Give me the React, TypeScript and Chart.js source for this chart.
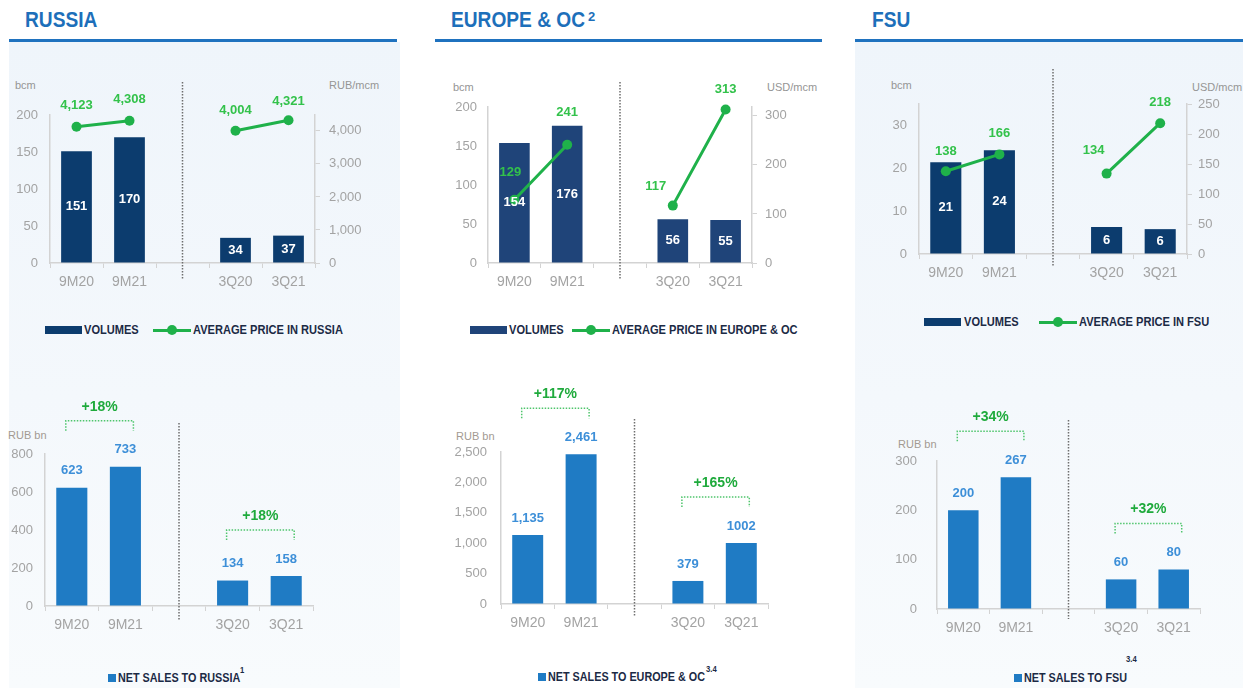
import React, { useEffect, useRef } from "react";
import { Chart, registerables } from "chart.js";

Chart.register(...registerables);

// ---------- DATA ----------
const CATEGORIES = ["9M20", "9M21", "", "3Q20", "3Q21"];

const RUSSIA_VOLUMES = [151, 170, null, 34, 37];
const RUSSIA_PRICE = [4123, 4308, null, 4004, 4321];
const RUSSIA_SALES = [623, 733, null, 134, 158];
const RUSSIA_GROWTH = ["+18%", "+18%"];

const EUROPE_VOLUMES = [154, 176, null, 56, 55];
const EUROPE_PRICE = [129, 241, null, 117, 313];
const EUROPE_SALES = [1135, 2461, null, 379, 1002];
const EUROPE_SALES_LABELS = ["1,135", "2,461", "", "379", "1002"];
const EUROPE_GROWTH = ["+117%", "+165%"];

const FSU_VOLUMES = [21.4, 24.2, null, 6.3, 5.8];
const FSU_PRICE = [138, 166, null, 134, 218];
const FSU_SALES = [200, 267, null, 60, 80];
const FSU_GROWTH = ["+34%", "+32%"];

// ---------- STYLE ----------
const FONT = "'Liberation Sans', Arial, Helvetica, sans-serif";
const NAVY = "#0c3c6e";
const NAVY_EU = "#1f4479";
const BLUE = "#1f7bc4";
const GREEN = "#1fb14a";
const PRICE_GREEN = "#33c24b";
const PCT_GREEN = "#1faa3c";
const BRACKET_GREEN = "#4fc56c";
const ABOVE_BLUE = "#3d8fd8";
const AXIS_GRAY = "#d3d3d3";
const TICK_GRAY = "#a3a3a3";
const TITLE_BLUE = "#1d6fba";
const LEGEND_TEXT = "#1b2a45";

Chart.defaults.font.family = FONT;

const fmt = (v: number) => v.toLocaleString("en-US");

const annot = {
  id: "annot",
  afterDraw(chart: any, _args: any, o: any) {
    const { ctx, chartArea: a } = chart;
    const xs = chart.scales.x;
    ctx.save();
    // dotted separator
    const sx = xs.getPixelForValue(2);
    ctx.strokeStyle = "#6e6e6e";
    ctx.lineWidth = 1.5;
    ctx.setLineDash([1.5, 1.5]);
    ctx.beginPath();
    ctx.moveTo(sx, a.top + o.sep[0]);
    ctx.lineTo(sx, a.bottom + o.sep[1]);
    ctx.stroke();
    ctx.setLineDash([]);
    ctx.textAlign = "center";
    ctx.textBaseline = "middle";
    chart.data.datasets.forEach((ds: any, di: number) => {
      const meta = chart.getDatasetMeta(di);
      meta.data.forEach((el: any, i: number) => {
        const v = ds.data[i];
        if (v == null) return;
        if (ds.labelMode === "price") {
          const off = (o.priceOffsets && o.priceOffsets[i]) || [0, -20];
          ctx.font = `bold 13px ${FONT}`;
          ctx.fillStyle = PRICE_GREEN;
          ctx.fillText(fmt(v), el.x + off[0], el.y + off[1]);
        } else if (ds.labelMode === "inside") {
          ctx.font = `bold 13px ${FONT}`;
          ctx.fillStyle = "#ffffff";
          ctx.fillText(String(Math.round(v)), el.x, (el.y + el.base) / 2);
        } else if (ds.labelMode === "above") {
          ctx.font = `bold 13px ${FONT}`;
          ctx.fillStyle = ABOVE_BLUE;
          const txt = ds.valueLabels ? ds.valueLabels[i] : fmt(v);
          ctx.fillText(txt, el.x, el.y - 17);
        }
      });
    });
    // growth brackets
    if (o.growth) {
      const meta = chart.getDatasetMeta(0);
      const pairs = [
        [0, 1],
        [3, 4],
      ];
      pairs.forEach((p, k) => {
        const e0 = meta.data[p[0]];
        const e1 = meta.data[p[1]];
        const top = Math.min(e0.y, e1.y);
        const xa = e0.x - 6;
        const xb = e1.x + 8;
        const yb = top - 36;
        const yl = top - 46;
        ctx.strokeStyle = BRACKET_GREEN;
        ctx.lineWidth = 1.5;
        ctx.setLineDash([1.5, 1.5]);
        ctx.beginPath();
        ctx.moveTo(xa, yb);
        ctx.lineTo(xa, yl);
        ctx.lineTo(xb, yl);
        ctx.lineTo(xb, yb);
        ctx.stroke();
        ctx.setLineDash([]);
        ctx.font = `bold 14px ${FONT}`;
        ctx.fillStyle = PCT_GREEN;
        ctx.fillText(o.growth[k], (xa + xb) / 2, top - 60);
      });
    }
    ctx.restore();
  },
};

function xScale(h: number) {
  return {
    type: "category",
    grid: { display: true, drawOnChartArea: false, drawTicks: true, tickLength: 5, color: AXIS_GRAY, offset: true },
    border: { color: AXIS_GRAY, width: 1.5 },
    ticks: { color: TICK_GRAY, font: { size: 14 }, padding: 6, autoSkip: false, maxRotation: 0 },
    afterFit: (s: any) => {
      s.height = h;
    },
  };
}

function yScale(pos: string, w: number, max: number, step: number, pad: number, tickLen: number) {
  return {
    position: pos,
    min: 0,
    max,
    grid: { display: true, drawOnChartArea: false, drawTicks: tickLen > 0, tickLength: tickLen, color: AXIS_GRAY },
    border: { color: AXIS_GRAY, width: 1.5 },
    ticks: {
      color: TICK_GRAY,
      font: { size: 13 },
      padding: pad,
      autoSkip: false,
      callback: (v: number) => fmt(v),
    },
    afterBuildTicks: (s: any) => {
      const t: any[] = [];
      for (let v = 0; v <= max + 1e-9; v += step) t.push({ value: v });
      s.ticks = t;
    },
    afterFit: (s: any) => {
      s.width = w;
    },
  };
}

function topConfig(p: any) {
  const [L, T, W, H] = p.rect;
  const [x0, x1, y0, y1] = p.area;
  return {
    type: "bar",
    data: {
      labels: CATEGORIES,
      datasets: [
        {
          type: "line",
          data: p.price,
          yAxisID: "y2",
          labelMode: "price",
          borderColor: GREEN,
          backgroundColor: GREEN,
          borderWidth: 3,
          pointRadius: 5,
          pointHoverRadius: 5,
          pointBackgroundColor: GREEN,
          pointBorderWidth: 0,
          spanGaps: false,
          order: 0,
          clip: false,
        },
        {
          type: "bar",
          data: p.volumes,
          yAxisID: "y",
          labelMode: "inside",
          backgroundColor: p.barColor,
          barPercentage: 0.58,
          categoryPercentage: 1,
          order: 1,
        },
      ],
    },
    plugins: [annot],
    options: {
      responsive: false,
      animation: false,
      devicePixelRatio: 1,
      layout: { padding: { top: y0 - T, left: 0, right: 0, bottom: 0 } },
      plugins: {
        legend: { display: false },
        tooltip: { enabled: false },
        annot: { sep: p.sep, priceOffsets: p.priceOffsets },
      },
      scales: {
        x: xScale(T + H - y1),
        y: yScale("left", x0 - L, p.yMax, p.yStep, p.leftPad, 0),
        y2: yScale("right", L + W - x1, p.y2Max, p.y2Step, p.rightPad, 5),
      },
    },
  };
}

function bottomConfig(p: any) {
  const [L, T, W, H] = p.rect;
  const [x0, x1, y0, y1] = p.area;
  return {
    type: "bar",
    data: {
      labels: CATEGORIES,
      datasets: [
        {
          type: "bar",
          data: p.sales,
          labelMode: "above",
          valueLabels: p.valueLabels,
          backgroundColor: BLUE,
          barPercentage: 0.58,
          categoryPercentage: 1,
        },
      ],
    },
    plugins: [annot],
    options: {
      responsive: false,
      animation: false,
      devicePixelRatio: 1,
      layout: { padding: { top: y0 - T, left: 0, right: L + W - x1, bottom: 0 } },
      plugins: {
        legend: { display: false },
        tooltip: { enabled: false },
        annot: { sep: p.sep, growth: p.growth },
      },
      scales: {
        x: xScale(T + H - y1),
        y: yScale("left", x0 - L, p.yMax, p.yStep, p.leftPad, 0),
      },
    },
  };
}

function ChartBox({ rect, make }: { rect: number[]; make: () => any }) {
  const ref = useRef<HTMLCanvasElement>(null);
  useEffect(() => {
    const chart = new Chart(ref.current as HTMLCanvasElement, make());
    return () => chart.destroy();
  }, []);
  return (
    <canvas
      ref={ref}
      width={rect[2]}
      height={rect[3]}
      style={{ position: "absolute", left: rect[0], top: rect[1], width: rect[2], height: rect[3] }}
    />
  );
}

function Txt(props: any) {
  const { x, y, size, color, bold, sx = 1, children } = props;
  return (
    <div
      style={{
        position: "absolute",
        left: x,
        top: y,
        fontFamily: FONT,
        fontSize: size,
        fontWeight: bold ? 700 : 400,
        color,
        lineHeight: 1,
        whiteSpace: "nowrap",
        transform: `translateY(-50%) scaleX(${sx})`,
        transformOrigin: "left center",
      }}
    >
      {children}
    </div>
  );
}

function Box(props: any) {
  const { x, y, w, h, bg, round } = props;
  return (
    <div
      style={{
        position: "absolute",
        left: x,
        top: y,
        width: w,
        height: h,
        background: bg,
        borderRadius: round ? "50%" : 0,
      }}
    />
  );
}

function TopLegend({ rx, y, tx, lx, px, label, barColor }: any) {
  return (
    <>
      <Box x={rx} y={y - 4} w={37} h={8} bg={barColor} />
      <Txt x={tx} y={y} size={13.5} bold color={LEGEND_TEXT} sx={0.82}>
        VOLUMES
      </Txt>
      <Box x={lx} y={y - 1.5} w={38} h={3} bg={GREEN} />
      <Box x={lx + 14} y={y - 5} w={10} h={10} bg={GREEN} round />
      <Txt x={px} y={y} size={13.5} bold color={LEGEND_TEXT} sx={0.82}>
        {label}
      </Txt>
    </>
  );
}

function BottomLegend({ sqx, y, label, supx, supy, sup }: any) {
  return (
    <>
      <Box x={sqx} y={y - 4} w={8} h={8} bg={BLUE} />
      <Txt x={sqx + 10} y={y} size={13.5} bold color={LEGEND_TEXT} sx={0.8}>
        {label}
      </Txt>
      <Txt x={supx} y={supy} size={9} bold color={LEGEND_TEXT} sx={0.85}>
        {sup}
      </Txt>
    </>
  );
}

export default function App() {
  useEffect(() => {
    document.body.style.margin = "0";
  }, []);

  const ruTop = { rect: [9, 75, 391, 225], area: [50, 315, 115, 263] };
  const euTop = { rect: [435, 75, 387, 225], area: [488, 752, 107, 263] };
  const fsTop = { rect: [855, 60, 388, 240], area: [919, 1187, 104, 254] };
  const ruBot = { rect: [9, 380, 391, 260], area: [45, 313, 454, 606] };
  const euBot = { rect: [435, 370, 387, 270], area: [501, 768, 452, 604] };
  const fsBot = { rect: [855, 390, 388, 260], area: [937, 1200, 461, 609] };

  const panelBg = "linear-gradient(180deg, #eff5fb 0%, #f4f8fc 55%, #f8fbfd 100%)";

  return (
    <div
      style={{
        position: "fixed",
        left: 0,
        top: 0,
        width: 1243,
        height: 688,
        background: "#ffffff",
        overflow: "hidden",
      }}
    >
      {/* panel backgrounds */}
      <Box x={9} y={42} w={391} h={646} bg={panelBg} />
      <Box x={855} y={42} w={388} h={646} bg={panelBg} />

      {/* titles */}
      <Txt x={25} y={20} size={22} bold color={TITLE_BLUE} sx={0.87}>
        RUSSIA
      </Txt>
      <Txt x={451} y={20} size={22} bold color={TITLE_BLUE} sx={0.87}>
        EUROPE &amp; OC
      </Txt>
      <Txt x={588} y={16} size={13} bold color={TITLE_BLUE}>
        2
      </Txt>
      <Txt x={872} y={20} size={22} bold color={TITLE_BLUE} sx={0.87}>
        FSU
      </Txt>
      <Box x={9} y={38.5} w={388} h={3} bg="#1f72bf" />
      <Box x={435} y={38.5} w={387} h={3} bg="#1f72bf" />
      <Box x={855} y={38.5} w={388} h={3} bg="#1f72bf" />

      {/* unit labels */}
      <Txt x={15} y={85} size={11} color="#959595">bcm</Txt>
      <Txt x={329} y={85} size={11} color="#959595">RUB/mcm</Txt>
      <Txt x={453} y={87} size={11} color="#959595">bcm</Txt>
      <Txt x={767} y={87} size={11} color="#959595">USD/mcm</Txt>
      <Txt x={891} y={85} size={11} color="#959595">bcm</Txt>
      <Txt x={1192} y={87} size={11} color="#959595">USD/mcm</Txt>
      <Txt x={8} y={435} size={11} color="#a39a92">RUB bn</Txt>
      <Txt x={456} y={436} size={11} color="#a39a92">RUB bn</Txt>
      <Txt x={898} y={444} size={11} color="#a39a92">RUB bn</Txt>

      {/* charts */}
      <ChartBox
        rect={ruTop.rect}
        make={() =>
          topConfig({
            ...ruTop,
            volumes: RUSSIA_VOLUMES,
            price: RUSSIA_PRICE,
            barColor: NAVY,
            yMax: 200,
            yStep: 50,
            y2Max: 4480,
            y2Step: 1000,
            leftPad: 12,
            rightPad: 9,
            sep: [-33, 17],
            priceOffsets: [[0, -21], [0, -21], null, [0, -20], [0, -19]],
          })
        }
      />
      <ChartBox
        rect={euTop.rect}
        make={() =>
          topConfig({
            ...euTop,
            volumes: EUROPE_VOLUMES,
            price: EUROPE_PRICE,
            barColor: NAVY_EU,
            yMax: 200,
            yStep: 50,
            y2Max: 318,
            y2Step: 100,
            leftPad: 11,
            rightPad: 8,
            sep: [-25, 17],
            priceOffsets: [[-4, -27], [0, -32], null, [-17, -19], [0, -20]],
          })
        }
      />
      <ChartBox
        rect={fsTop.rect}
        make={() =>
          topConfig({
            ...fsTop,
            volumes: FSU_VOLUMES,
            price: FSU_PRICE,
            barColor: NAVY,
            yMax: 35,
            yStep: 10,
            y2Max: 250,
            y2Step: 50,
            leftPad: 12,
            rightPad: 6,
            sep: [-35, 13],
            priceOffsets: [[0, -20], [0, -21], null, [-13, -23], [0, -21]],
          })
        }
      />
      <ChartBox
        rect={ruBot.rect}
        make={() =>
          bottomConfig({
            ...ruBot,
            sales: RUSSIA_SALES,
            growth: RUSSIA_GROWTH,
            yMax: 800,
            yStep: 200,
            leftPad: 12,
            sep: [-31, 14],
          })
        }
      />
      <ChartBox
        rect={euBot.rect}
        make={() =>
          bottomConfig({
            ...euBot,
            sales: EUROPE_SALES,
            valueLabels: EUROPE_SALES_LABELS,
            growth: EUROPE_GROWTH,
            yMax: 2500,
            yStep: 500,
            leftPad: 14,
            sep: [-33, 13],
          })
        }
      />
      <ChartBox
        rect={fsBot.rect}
        make={() =>
          bottomConfig({
            ...fsBot,
            sales: FSU_SALES,
            growth: FSU_GROWTH,
            yMax: 300,
            yStep: 100,
            leftPad: 20,
            sep: [-41, 10],
          })
        }
      />

      {/* legends */}
      <TopLegend rx={45} y={330} tx={84} lx={153} px={193} label="AVERAGE PRICE IN RUSSIA" barColor={NAVY} />
      <TopLegend rx={470} y={330} tx={509} lx={572} px={612} label="AVERAGE PRICE IN EUROPE & OC" barColor={NAVY_EU} />
      <TopLegend rx={924} y={322} tx={964} lx={1039} px={1079} label="AVERAGE PRICE IN FSU" barColor={NAVY} />

      <BottomLegend sqx={108} y={678} label="NET SALES TO RUSSIA" supx={240} supy={670} sup="1" />
      <BottomLegend sqx={538} y={677} label="NET SALES TO EUROPE & OC" supx={706} supy={669} sup="3.4" />
      <BottomLegend sqx={1014} y={678} label="NET SALES TO FSU" supx={1126} supy={659} sup="3.4" />
    </div>
  );
}
